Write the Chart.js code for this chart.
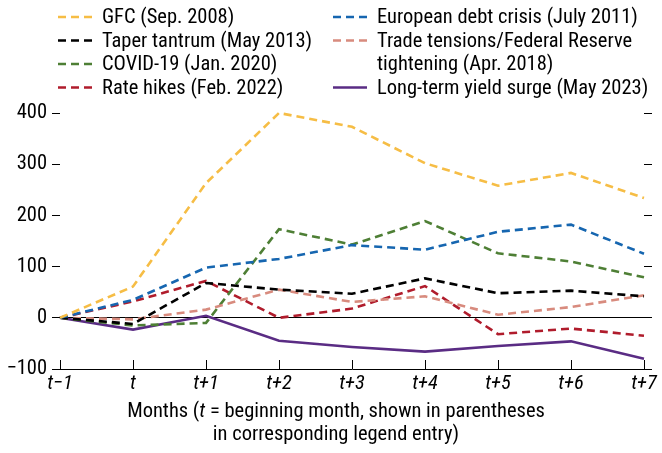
<!DOCTYPE html>
<html>
<head>
<meta charset="utf-8">
<script src="https://cdn.jsdelivr.net/npm/chart.js@4"></script>
<style>
html,body{margin:0;padding:0;background:#fff;}
#wrap{width:662px;height:453px;position:relative;}
</style>
</head>
<body>
<div id="wrap"><canvas id="c"></canvas></div>
<script>
const categories = ['t\u22121','t','t+1','t+2','t+3','t+4','t+5','t+6','t+7'];
const gfc      = [0, 61, 263, 400, 373, 302, 258, 283, 234];
const european = [0, 35, 98, 115, 142, 133, 168, 182, 125];
const taper    = [0, -12, 68, 55, 47, 77, 48, 53, 42];
const covid    = [0, -15, -10, 173, 143, 189, 126, 110, 79];
const trade    = [0, -3, 16, 55, 31, 42, 6, 21, 44];
const rateHikes= [0, 32, 72, 0, 18, 62, -32, -21, -35];
const longTerm = [0, -23, 4, -45, -57, -66, -55, -46, -80];
const yTicks   = [-100, 0, 100, 200, 300, 400];
const seriesNames = ['GFC (Sep. 2008)','European debt crisis (July 2011)','Taper tantrum (May 2013)',
  'Trade tensions/Federal Reserve\ntightening (Apr. 2018)','COVID-19 (Jan. 2020)','Rate hikes (Feb. 2022)',
  'Long-term yield surge (May 2023)'];

const FONT = "'Roboto Condensed','Liberation Sans Narrow',sans-serif";
const FS = 20.5;
const DASH = [8,5];
function ds(label, data, color, dashed){
  return {label, data, borderColor: color, backgroundColor: color, borderWidth: 2.6,
    borderDash: dashed ? DASH : [], pointRadius: 0, tension: 0, fill: false, clip: false};
}
const datasets = [
  ds(seriesNames[0], gfc, '#f6bd45', true),
  ds(seriesNames[1], european, '#1666b0', true),
  ds(seriesNames[2], taper, '#000000', true),
  ds(seriesNames[3], trade, '#d88b7e', true),
  ds(seriesNames[4], covid, '#4e7f35', true),
  ds(seriesNames[5], rateHikes, '#b01c2c', true),
  ds(seriesNames[6], longTerm, '#5a2c84', false)
];

const legendLayout = [
  {i:0, col:0, row:0}, {i:2, col:0, row:1}, {i:4, col:0, row:2}, {i:5, col:0, row:3},
  {i:1, col:1, row:0}, {i:3, col:1, row:1}, {i:6, col:1, row:3}
];

const customPlugin = {
  id: 'custom',
  afterDraw(chart){
    const ctx = chart.ctx;
    const xs = chart.scales.x;
    const area = chart.chartArea;
    ctx.save();
    // inner x ticks
    ctx.strokeStyle = '#000'; ctx.lineWidth = 1;
    categories.forEach((c, k) => {
      const px = Math.round(xs.getPixelForValue(k)) + 0.5;
      ctx.beginPath(); ctx.moveTo(px, area.bottom); ctx.lineTo(px, area.bottom - 9); ctx.stroke();
    });
    // legend
    const colX = [[58, 102], [333, 377]];
    const rowY = [17, 40.5, 64, 87.5];
    ctx.font = FS + 'px ' + FONT;
    ctx.textBaseline = 'middle';
    ctx.textAlign = 'left';
    legendLayout.forEach(e => {
      const d = chart.data.datasets[e.i];
      const [sx, tx] = colX[e.col];
      const y = rowY[e.row];
      ctx.strokeStyle = d.borderColor; ctx.lineWidth = 2.6;
      ctx.setLineDash(d.borderDash);
      ctx.beginPath(); ctx.moveTo(sx, y); ctx.lineTo(sx + 34, y); ctx.stroke();
      ctx.setLineDash([]);
      ctx.fillStyle = '#000';
      d.label.split('\n').forEach((ln, j) => ctx.fillText(ln, tx, y + 1 + j * 23.5));
    });
    // x axis title with italic t
    const cx = 336;
    const part1 = 'Months (', part2 = 't', part3 = ' = beginning month, shown in parentheses';
    const normal = FS + 'px ' + FONT, ital = 'italic ' + FS + 'px ' + FONT;
    ctx.font = normal; const w1 = ctx.measureText(part1).width, w3 = ctx.measureText(part3).width;
    ctx.font = ital; const w2 = ctx.measureText(part2).width;
    let x0 = cx - (w1 + w2 + w3) / 2;
    const ty = 412;
    ctx.font = normal; ctx.fillText(part1, x0, ty);
    ctx.font = ital; ctx.fillText(part2, x0 + w1, ty);
    ctx.font = normal; ctx.fillText(part3, x0 + w1 + w2, ty);
    ctx.textAlign = 'center';
    ctx.fillText('in corresponding legend entry)', cx, 435);
    ctx.restore();
  }
};

new Chart(document.getElementById('c'), {
  type: 'line',
  data: { labels: categories, datasets },
  options: {
    responsive: true, maintainAspectRatio: false, animation: false,
    layout: { padding: { top: 113, left: 0, right: 0, bottom: 0 } },
    plugins: { legend: { display: false }, tooltip: { enabled: false } },
    scales: {
      x: {
        offset: false,
        grid: { display: false, drawTicks: false },
        border: { display: true, color: '#000', width: 1 },
        ticks: { font: { family: FONT, size: FS, style: 'italic' }, color: '#000', padding: 3, maxRotation: 0, autoSkip: false },
        afterFit(s){ s.height = 453 - 369; }
      },
      y: {
        position: 'left', min: -100, max: 400,
        afterBuildTicks(s){ s.ticks = yTicks.map(v => ({value: v})); },
        grid: { drawOnChartArea: true, color: c => (c.tick && c.tick.value === 0) ? '#000' : 'rgba(0,0,0,0)',
                tickColor: '#000', tickLength: 8, lineWidth: 1 },
        border: { display: false },
        ticks: { font: { family: FONT, size: FS }, color: '#000', padding: 5,
                 callback: v => v < 0 ? '\u2212' + Math.abs(v) : String(v) },
        afterFit(s){ s.width = 60; }
      },
      y2: {
        position: 'right', min: -100, max: 400,
        afterBuildTicks(s){ s.ticks = yTicks.map(v => ({value: v})); },
        grid: { drawOnChartArea: false, tickColor: '#000', tickLength: 8 },
        border: { display: false },
        ticks: { display: false },
        afterFit(s){ s.width = 662 - 644; }
      }
    }
  },
  plugins: [customPlugin]
});
</script>
</body>
</html>
